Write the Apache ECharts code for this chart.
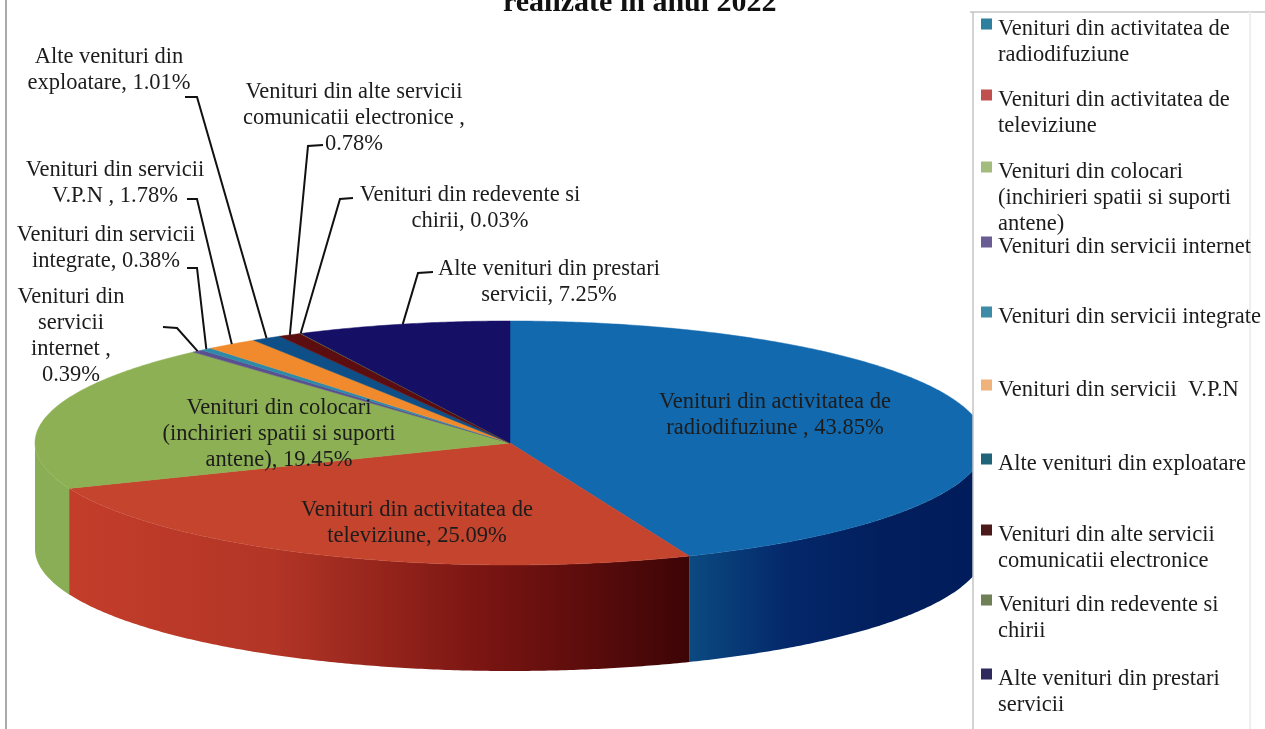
<!DOCTYPE html>
<html><head><meta charset="utf-8">
<style>html,body{margin:0;padding:0;background:#fff}#c{width:1265px;height:729px}</style>
<script src="https://cdn.jsdelivr.net/npm/echarts@6/dist/echarts.min.js"></script>
</head><body><div id="c"></div>
<script>
// ---- data ----
const categories = [
  'Venituri din activitatea de\nradiodifuziune',
  'Venituri din activitatea de\ntelevizIune',
  'Venituri din colocari\n(inchirieri spatii si suporti\nantene)',
  'Venituri din servicii internet',
  'Venituri din servicii integrate',
  'Venituri din servicii  V.P.N',
  'Alte venituri din exploatare',
  'Venituri din alte servicii\ncomunicatii electronice',
  'Venituri din redevente si\nchirii',
  'Alte venituri din prestari\nservicii'
].map(s => s.replace('televizIune', 'televiziune'));
const values = [43.85, 25.09, 19.45, 0.39, 0.38, 1.78, 1.01, 0.78, 0.03, 7.25];
const labelTexts = [
  'Venituri din activitatea de\nradiodifuziune , ',
  'Venituri din activitatea de\ntelevizIune, ',
  'Venituri din colocari\n(inchirieri spatii si suporti\nantene), ',
  'Venituri din\nservicii\ninternet ,\n',
  'Venituri din servicii\nintegrate, ',
  'Venituri din servicii\nV.P.N , ',
  'Alte venituri din\nexploatare, ',
  'Venituri din alte servicii\ncomunicatii electronice ,\n',
  'Venituri din redevente si\nchirii, ',
  'Alte venituri din prestari\nservicii, '
].map(s => s.replace('televizIune', 'televiziune'));
const titleText = 'realizate in anul 2022';

// ---- styles & layout ----
const topColors = ['#1269ae', '#c4442e', '#8cb053', '#5a4f8f', '#2e8aa8', '#f08a2c', '#0d4f86', '#5c0d10', '#76923c', '#160f66'];
const sideStops = [
  ['#0b4a80', '#04286b', '#021e5c', '#011c5a'],
  ['#c43d2b', '#b23526', '#7a1512', '#3d0406'],
  ['#8aae55', '#8aae55'],
  null, null, null, null, null, null, null
];
const legendColors = ['#2f7f9f', '#c0504d', '#a3bb7d', '#6a5d94', '#3d8ba6', '#eeb27a', '#1f6478', '#4a1a1a', '#6f7f56', '#2e2a5c'];
const legendLineY = [27, 98, 170, 245, 315, 388, 462, 533, 603, 677];
const labelCenters = [[775, 415], [417, 523], [279, 434], [71, 336], [106, 248], [115, 183], [109, 70], [354, 118], [470, 208], [549, 282]];
const leaderElbows = [null, null, null,
  [[163, 327], [177, 328]], [[187, 268], [197, 268]], [[187, 199], [197, 199]],
  [[185, 97], [197, 97]], [[323, 145], [308, 146]], [[353, 198], [340, 199]], [[433, 272], [418, 273]]];
const PIE = { cx: 510, cy: 443, rx: 475, ry: 122, depth: 106 };
const FONT = '"Liberation Serif","Times New Roman",serif';
const LH = 26, FS = 22.5;
// swatch in the upper part of a taller symbol box, so it lines up with the first line of text
const LEGEND_ICON = 'path://M0 0H11V11H0Z M0 21H11V21H0Z';

// cumulative fractions, as the angles of each slice
const total = values.reduce((a, b) => a + b, 0);
let cum = 0;
const ranges = values.map(v => { const s = cum; cum += v; return [s / total, cum / total]; });
const pt = (t, dz) => [PIE.cx + PIE.rx * Math.sin(t * 2 * Math.PI), PIE.cy - PIE.ry * Math.cos(t * 2 * Math.PI) + (dz || 0)];
function arc(a, b, dz) {
  const n = Math.max(2, Math.ceil((b - a) * 720)), out = [];
  for (let i = 0; i <= n; i++) out.push(pt(a + (b - a) * i / n, dz));
  return out;
}
function sliceItem(i) {
  return function (params, api) {
    const a = api.value(0), b = api.value(1), children = [];
    const fa = Math.max(a, .25), fb = Math.min(b, .75);
    if (fb > fa && sideStops[i]) {
      const stops = sideStops[i];
      const fill = new echarts.graphic.LinearGradient(0, 0, 1, 0,
        stops.map((c, k) => ({ offset: k / (stops.length - 1), color: c })));
      const pts = arc(fa, fb, 0).concat(arc(fa, fb, PIE.depth).reverse());
      children.push({ type: 'polygon', shape: { points: pts }, style: { fill } });
    }
    children.push({ type: 'polygon', shape: { points: [[PIE.cx, PIE.cy]].concat(arc(a, b, 0)) }, style: { fill: topColors[i], stroke: topColors[i], lineWidth: .5 } });
    return { type: 'group', children };
  };
}
function labelItem(params, api) {
  const i = api.value(0), mid = (api.value(1) + api.value(2)) / 2, children = [];
  if (leaderElbows[i]) {
    children.push({ type: 'polyline', shape: { points: leaderElbows[i].concat([pt(mid)]) }, style: { fill: 'none', stroke: '#111', lineWidth: 2 } });
  }
  const [x, y] = labelCenters[i];
  children.push({ type: 'text', style: { text: labelTexts[i] + values[i].toFixed(2) + '%', x, y, align: 'center', verticalAlign: 'middle', font: FS + 'px ' + FONT, lineHeight: LH, fill: '#1c1c1c' } });
  return { type: 'group', children };
}
const series = categories.map((name, i) => ({
  type: 'custom', name, coordinateSystem: 'none', z: 2, silent: true, animation: false,
  itemStyle: { color: legendColors[i] },
  data: [ranges[i]], renderItem: sliceItem(i)
}));
series.push({
  type: 'custom', name: 'labels', coordinateSystem: 'none', z: 5, silent: true, animation: false,
  data: ranges.map((r, i) => [i, r[0], r[1]]), renderItem: labelItem
});
const legends = categories.map((name, i) => {
  const n = name.split('\n').length, h = (2 * n - 1) * LH;
  return {
    left: 981, top: legendLineY[i] + 2 - h / 2, padding: 0, z: 6, selectedMode: false, orient: 'vertical',
    icon: LEGEND_ICON, itemWidth: 11, itemHeight: 21, itemGap: 0,
    data: [{ name, itemStyle: { color: legendColors[i] } }],
    formatter: t => '\n'.repeat(n - 1) + t,
    textStyle: { fontFamily: FONT, fontSize: FS, lineHeight: LH, color: '#1c1c1c', padding: [0, 0, 0, 1] }
  };
});
const chart = echarts.init(document.getElementById('c'));
chart.setOption({
  backgroundColor: '#fff', animation: false,
  title: { text: titleText, left: 503, top: -12, padding: 0, textStyle: { fontFamily: FONT, fontSize: 30, fontWeight: 'bold', color: '#111' } },
  legend: legends,
  series,
  graphic: [
    { type: 'rect', z: 3, shape: { x: 973, y: 12, width: 292, height: 717 }, style: { fill: '#fff' } },
    { type: 'line', z: 4, shape: { x1: 6, y1: 0, x2: 6, y2: 729 }, style: { stroke: '#aaa', lineWidth: 2 } },
    { type: 'line', z: 4, shape: { x1: 973, y1: 12, x2: 973, y2: 729 }, style: { stroke: '#c4c4c4', lineWidth: 1.5 } },
    { type: 'line', z: 4, shape: { x1: 970, y1: 12, x2: 1265, y2: 12 }, style: { stroke: '#aaa', lineWidth: 1 } },
    { type: 'line', z: 4, shape: { x1: 1250, y1: 12, x2: 1250, y2: 729 }, style: { stroke: '#eeeeee', lineWidth: 2 } }
  ]
});
</script></body></html>
